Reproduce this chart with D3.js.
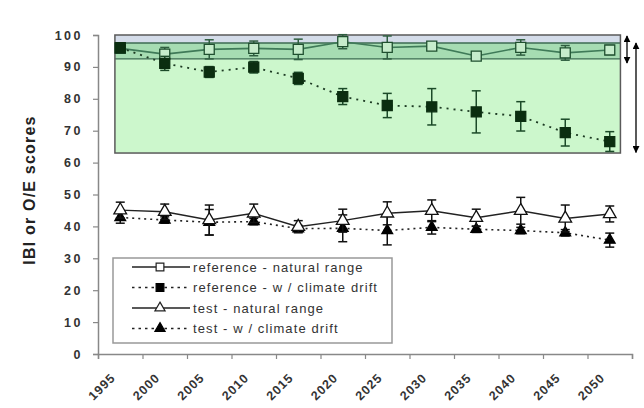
<!DOCTYPE html>
<html><head><meta charset="utf-8">
<script src="https://cdn.jsdelivr.net/npm/d3@7"></script>
<style>
body{margin:0;background:#fff;}
svg{display:block;font-family:"Liberation Sans",Arial,sans-serif;}
.xl{transform-box:view-box;}
</style></head>
<body><div id="chart"></div>
<script>
const years = [1997.5,2002.5,2007.5,2012.5,2017.5,2022.5,2027.5,2032.5,2037.5,2042.5,2047.5,2052.5];
const refNatural = [95.8,94.0,95.5,95.8,95.5,97.9,96.1,96.5,93.4,96.1,94.4,95.3];
const refNaturalErr = [1.5,2.1,3.0,2.3,3.2,2.2,3.6,1.0,1.3,2.4,2.3,1.4];
const refDrift = [96.0,91.1,88.4,89.9,86.4,80.7,77.9,77.5,75.9,74.5,69.4,66.6];
const refDriftErr = [1.3,2.2,1.7,1.8,1.9,2.5,3.8,5.7,6.6,4.6,4.2,3.1];
const testNatural = [45.1,44.6,42.0,44.1,39.9,41.8,44.1,44.9,42.7,44.9,42.5,43.9];
const testNaturalErr = [2.5,2.4,4.7,2.9,1.9,3.6,3.6,3.4,2.7,4.2,4.2,2.5];
const testDrift = [42.8,42.0,41.3,41.5,39.3,39.4,38.7,39.7,39.1,38.7,38.0,35.7];
const testDriftErr = [1.8,1.0,4.0,1.0,1.0,4.2,4.5,2.1,1.0,1.0,1.0,2.2];
const yTicks = [0,10,20,30,40,50,60,70,80,90,100];
const xTicks = [1995,2000,2005,2010,2015,2020,2025,2030,2035,2040,2045,2050,2055];
const xTickLabels = ["1995","2000","2005","2010","2015","2020","2025","2030","2035","2040","2045","2050",""];
const legendLabels = ["reference - natural range","reference - w / climate drift","test - natural range","test - w / climate drift"];
const boxYears = [1996.9,2053.7];
const boxValues = [63,92.5,97.5,100];

const W=644,H=408;
const svg=d3.select("#chart").append("svg").attr("width",W).attr("height",H);
const x=d3.scaleLinear().domain([1995,2055]).range([98,632]);
const y=d3.scaleLinear().domain([0,100]).range([354,35]);

// shaded boxes
const bx0=x(boxYears[0]), bx1=x(boxYears[1]);
svg.append("rect").attr("x",bx0).attr("y",y(boxValues[3])).attr("width",bx1-bx0).attr("height",y(boxValues[0])-y(boxValues[3])).attr("fill","#ccf7cc");
svg.append("rect").attr("x",bx0).attr("y",y(boxValues[2])).attr("width",bx1-bx0).attr("height",y(boxValues[1])-y(boxValues[2])).attr("fill","#a6dcb2");
svg.append("rect").attr("x",bx0).attr("y",y(boxValues[3])).attr("width",bx1-bx0).attr("height",y(boxValues[2])-y(boxValues[3])).attr("fill","#d4dce9");
[boxValues[1],boxValues[2]].forEach(v=>svg.append("line").attr("x1",bx0).attr("x2",bx1).attr("y1",y(v)).attr("y2",y(v)).attr("stroke","#3d6b52").attr("stroke-width",1.3));
svg.append("rect").attr("x",bx0).attr("y",y(boxValues[3])).attr("width",bx1-bx0).attr("height",y(boxValues[0])-y(boxValues[3])).attr("fill","none").attr("stroke","#5a5a5a").attr("stroke-width",1.5);

// axes
const gy=svg.append("g").attr("transform","translate(98,0)").call(d3.axisLeft(y).tickValues(yTicks).tickSize(5).tickPadding(10));
gy.select(".domain").attr("stroke","#888").attr("stroke-width",1.5);
gy.selectAll(".tick line").attr("stroke","#888").attr("stroke-width",1.2);
gy.selectAll(".tick text").attr("font-size",12.5).attr("font-weight","bold").attr("fill","#333").attr("letter-spacing","2.5px").attr("font-family","Liberation Sans,Arial,sans-serif");
const gx=svg.append("g").attr("transform","translate(0,354)").call(d3.axisBottom(x).tickValues(xTicks).tickSize(5).tickFormat(""));
gx.select(".domain").attr("stroke","#888").attr("stroke-width",1.5);
gx.selectAll(".tick line").attr("stroke","#888").attr("stroke-width",1.2);
xTicks.forEach((t,i)=>{
  if(!xTickLabels[i]) return;
  const cx=x(t)+4, cy=387;
  svg.append("text").attr("class","xl")
    .attr("x",cx).attr("y",cy)
    .style("transform-origin",`${cx}px ${cy}px`)
    .style("transform","rotate(-45deg)")
    .attr("text-anchor","middle").attr("dominant-baseline","central")
    .attr("font-size",12.5).attr("font-weight","bold").attr("fill","#333").attr("letter-spacing","1px")
    .text(xTickLabels[i]);
});

svg.append("text").attr("transform","translate(29,190) rotate(-90)").attr("text-anchor","middle").attr("dominant-baseline","central")
  .attr("font-size",16).attr("font-weight","bold").attr("fill","#222").attr("letter-spacing","1.2px").text("IBI or O/E scores");

// series
function series(vals,errs,opt){
  const g=svg.append("g");
  const line=d3.line().x((d,i)=>x(years[i])).y(d=>y(d));
  g.append("path").datum(vals).attr("d",line).attr("fill","none").attr("stroke",opt.lineColor).attr("stroke-width",opt.lw)
    .attr("stroke-dasharray",opt.dash||null);
  vals.forEach((v,i)=>{
    const cx=x(years[i]),top=y(v+errs[i]),bot=y(v-errs[i]);
    g.append("line").attr("x1",cx).attr("x2",cx).attr("y1",top).attr("y2",bot).attr("stroke",opt.errColor).attr("stroke-width",1.5);
    [top,bot].forEach(yy=>g.append("line").attr("x1",cx-4.5).attr("x2",cx+4.5).attr("y1",yy).attr("y2",yy).attr("stroke",opt.errColor).attr("stroke-width",1.5));
  });
  vals.forEach((v,i)=>{
    g.append("path").attr("transform",`translate(${x(years[i])},${y(v)})`)
      .attr("d",d3.symbol().type(opt.symbol).size(opt.size)())
      .attr("fill",opt.fill).attr("stroke",opt.stroke).attr("stroke-width",1.3);
  });
}
series(testDrift,testDriftErr,{lineColor:"#222",lw:1.6,dash:"2 4",errColor:"#111",symbol:d3.symbolTriangle,size:50,fill:"#000",stroke:"#000"});
series(testNatural,testNaturalErr,{lineColor:"#222",lw:1.4,errColor:"#111",symbol:d3.symbolTriangle,size:70,fill:"#fff",stroke:"#111"});
series(refNatural,refNaturalErr,{lineColor:"#3f7a58",lw:1.6,errColor:"#2f5e40",symbol:d3.symbolSquare,size:100,fill:"#c6eccb",stroke:"#1f4f2f"});
series(refDrift,refDriftErr,{lineColor:"#1c3a22",lw:1.8,dash:"2 5",errColor:"#1b4a28",symbol:d3.symbolSquare,size:100,fill:"#0b2e10",stroke:"#0b2e10"});

// arrows
const defs=svg.append("defs");
defs.append("marker").attr("id","ah").attr("viewBox","0 0 10 10").attr("refX",9).attr("refY",5).attr("markerWidth",7).attr("markerHeight",7).attr("orient","auto-start-reverse").attr("markerUnits","userSpaceOnUse")
  .append("path").attr("d","M0,0L10,5L0,10Z").attr("fill","#000");
svg.append("line").attr("x1",627).attr("x2",627).attr("y1",y(99.7)).attr("y2",y(91.2)).attr("stroke","#000").attr("stroke-width",1.3).attr("marker-start","url(#ah)").attr("marker-end","url(#ah)");
svg.append("line").attr("x1",636).attr("x2",636).attr("y1",y(97.5)).attr("y2",y(63.2)).attr("stroke","#000").attr("stroke-width",1.3).attr("marker-start","url(#ah)").attr("marker-end","url(#ah)");

// legend
const lg=svg.append("g");
lg.append("rect").attr("x",113).attr("y",258).attr("width",279).attr("height",85).attr("fill","#fff").attr("stroke","#999").attr("stroke-width",1.5);
const legendStyles=[
 {dash:null,sym:d3.symbolSquare,size:60,fill:"#fff",stroke:"#222"},
 {dash:"2.5 4",sym:d3.symbolSquare,size:60,fill:"#000",stroke:"#000"},
 {dash:null,sym:d3.symbolTriangle,size:45,fill:"#fff",stroke:"#222"},
 {dash:"2.5 4",sym:d3.symbolTriangle,size:45,fill:"#000",stroke:"#000"}];
legendLabels.forEach((t,i)=>{
  const yy=267+i*20.5, s=legendStyles[i];
  lg.append("line").attr("x1",132).attr("x2",190).attr("y1",yy).attr("y2",yy).attr("stroke","#222").attr("stroke-width",1.3).attr("stroke-dasharray",s.dash);
  lg.append("path").attr("transform",`translate(160,${yy})`).attr("d",d3.symbol().type(s.sym).size(s.size)()).attr("fill",s.fill).attr("stroke",s.stroke).attr("stroke-width",1.2);
  lg.append("text").attr("x",193).attr("y",yy).attr("dominant-baseline","central").attr("font-size",13).attr("fill","#333").attr("letter-spacing","1.1px").text(t);
});
</script></body></html>
